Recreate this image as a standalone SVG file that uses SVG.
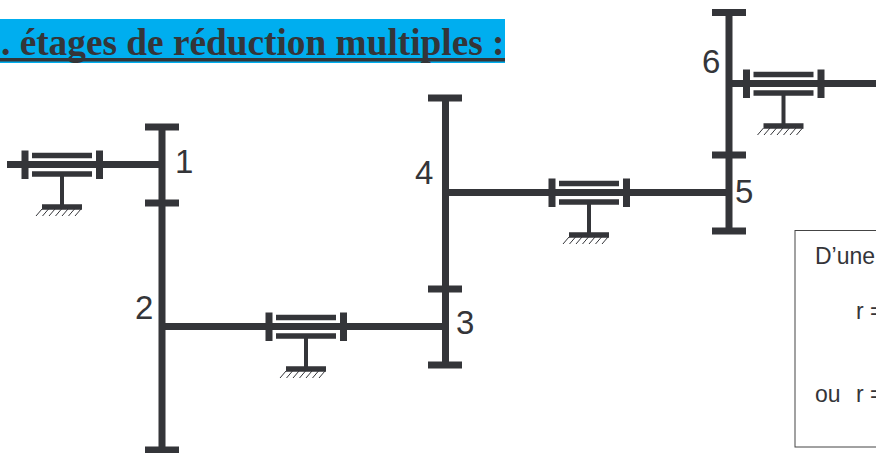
<svg xmlns="http://www.w3.org/2000/svg" width="876" height="453" viewBox="0 0 876 453">
<style>
.s{stroke:#343539;fill:none}
.h{stroke-width:1}
.lbl{font-family:"Liberation Sans",Arial,sans-serif;font-size:33px;fill:#343539}
.box{font-family:"Liberation Sans",Arial,sans-serif;font-size:23px;fill:#343539}
</style>
<defs>
<g id="bearing">
<path class="s" style="stroke-width:7" d="M25 150.500V179M99.500 150.500V179"/>
<path class="s" style="stroke-width:5.500" d="M32 155.500H92M32 174H92M42 207H82"/>
<path class="s" style="stroke-width:4" d="M62 176V205"/>
<path class="s h" d="M42 209L36 216M48.500 209L42.500 216M55 209L49 216M61.500 209L55.500 216M68 209L62 216M74.500 209L68.500 216M81 209L75 216"/>
</g>
</defs>
<g id="banner">
<rect x="0" y="19" width="505" height="44" fill="#00aeef"/>
<text x="1" y="55" font-family="'Liberation Serif','Times New Roman',serif" font-weight="700" font-size="37.300px" fill="#343539">. étages de réduction multiples :</text>
<rect x="0" y="58" width="505" height="3.500" fill="#343539"/>
</g>
<g id="connectors">
<path class="s" style="stroke-width:7" d="M7 164.500H162M162 326.500H445M445 192.500H729M729 83.500H876"/>
</g>
<g id="gear-1-2">
<path class="s" style="stroke-width:7" d="M162 127V450M145 127H179M145 203H179M145 450H179"/>
</g>
<g id="gear-3-4">
<path class="s" style="stroke-width:7" d="M445.500 98V365M428 98H462M428 289H462M428 365H462"/>
</g>
<g id="gear-5-6">
<path class="s" style="stroke-width:7" d="M729 12.500V231M712 12.500H746M712 155H746M712 231H746"/>
</g>
<g id="bearing-1"><use href="#bearing"/></g>
<g id="bearing-2"><use href="#bearing" transform="translate(244 162)"/></g>
<g id="bearing-3"><use href="#bearing" transform="translate(527 28)"/></g>
<g id="bearing-4"><use href="#bearing" transform="translate(721.500 -81)"/></g>
<g id="labels">
<text class="lbl" x="175" y="173">1</text>
<text class="lbl" x="135" y="319">2</text>
<text class="lbl" x="456" y="334">3</text>
<text class="lbl" x="415" y="184">4</text>
<text class="lbl" x="735" y="203">5</text>
<text class="lbl" x="702" y="73">6</text>
</g>
<g id="note">
<rect x="795" y="230.500" width="90" height="216.500" fill="#fff" stroke="#444" stroke-width="1"/>
<text class="box" x="815" y="264">D’une</text>
<text class="box" x="856" y="319">r =</text>
<text class="box" x="815" y="402">ou<tspan x="856">r =</tspan></text>
</g>
</svg>
